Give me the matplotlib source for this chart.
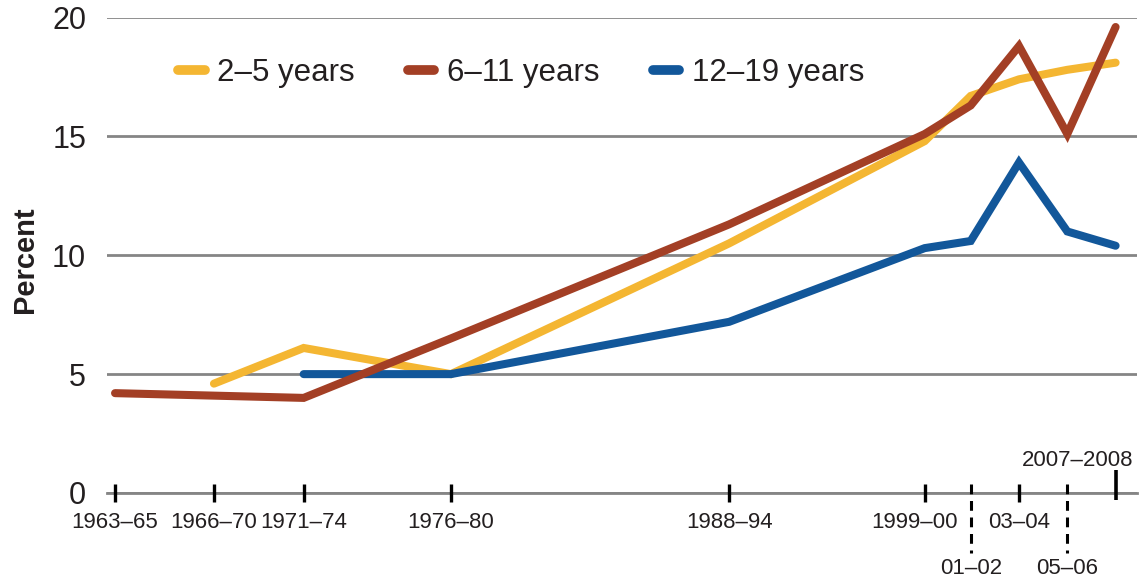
import matplotlib
matplotlib.use("Agg")
import matplotlib.pyplot as plt
from matplotlib.transforms import ScaledTranslation
import numpy as np

# ---------------- data ----------------
periods = ["1963–65", "1966–70", "1971–74", "1976–80", "1988–94",
           "1999–00", "01–02", "03–04", "05–06", "2007–2008"]
period_year = [1964.0, 1968.3, 1972.2, 1978.6, 1990.7,
               1999.2, 2001.2, 2003.3, 2005.4, 2007.5]
age_2_5 = [None, 4.6, 6.1, 5.0, 10.5, 14.8, 16.7, 17.4, 17.8, 18.1]
age_6_11 = [4.2, None, 4.0, 6.5, 11.3, 15.1, 16.3, 18.8, 15.1, 19.6]
age_12_19 = [None, None, 5.0, 5.0, 7.2, 10.3, 10.6, 13.9, 11.0, 10.4]
series_labels = ["2–5 years", "6–11 years", "12–19 years"]
y_ticks = [0, 5, 10, 15, 20]

colors = ["#F4B632", "#A33F25", "#12579A"]
text_color = "#231F20"
grid_color = "#858585"

plt.rcParams["font.family"] = ["Liberation Sans", "DejaVu Sans"]

W, H = 1141, 579
fig = plt.figure(figsize=(W / 100, H / 100), dpi=100)
ax = fig.add_axes([107 / W, (H - 493) / H, (1137 - 107) / W, (493 - 17.5) / H])

lines = []
for vals, lab, col in zip([age_2_5, age_12_19, age_6_11],
                          [series_labels[0], series_labels[2], series_labels[1]],
                          [colors[0], colors[2], colors[1]]):
    xs = [x for x, v in zip(period_year, vals) if v is not None]
    ys = [v for v in vals if v is not None]
    ln, = ax.plot(xs, ys, color=col, lw=5.8, solid_capstyle="round",
                  solid_joinstyle="miter", label=lab, zorder=3)
    lines.append(ln)

ax.set_xlim(1963.65, 2008.43)
ax.set_ylim(0, 20)

# y axis
ax.set_yticks(y_ticks)
ax.set_yticklabels([str(t) for t in y_ticks])
ax.tick_params(axis="y", length=0, pad=15, labelsize=22, labelcolor=text_color)
ax.yaxis.grid(True, color=grid_color, lw=2.0)
ax.set_axisbelow(True)
for s in ["top", "right", "left"]:
    ax.spines[s].set_visible(False)
ax.spines["bottom"].set_color(grid_color)
ax.spines["bottom"].set_linewidth(2.0)
ax.set_ylabel("Percent", fontsize=21, fontweight="bold", color=text_color)
ax.yaxis.set_label_coords(-0.066, 0.49)

# x axis: regular ticks (major), dashed ticks (minor), last one special
major_idx = [0, 1, 2, 3, 4, 5, 7]
minor_idx = [6, 8]
ax.set_xticks([period_year[i] for i in major_idx])
ax.set_xticklabels([periods[i] for i in major_idx])
ax.set_xticks([period_year[i] for i in minor_idx], minor=True)
ax.set_xticklabels([periods[i] for i in minor_idx], minor=True)
ax.tick_params(axis="x", which="major", length=0, pad=14, labelsize=16,
               labelcolor=text_color)
ax.tick_params(axis="x", which="minor", length=0, pad=47, labelsize=16,
               labelcolor=text_color)

# shift 1999-00 label left a bit
for lbl in ax.get_xticklabels():
    if lbl.get_text() == periods[5]:
        lbl.set_transform(lbl.get_transform() +
                          ScaledTranslation(-10 / 100, 0, fig.dpi_scale_trans))

trans = ax.get_xaxis_transform()
span = 493 - 17.5
for i in major_idx:
    ax.plot([period_year[i]] * 2, [9 / span, -9 / span], color="black", lw=2.4,
            transform=trans, clip_on=False, solid_capstyle="butt", zorder=4)
for i in minor_idx:
    ax.plot([period_year[i]] * 2, [9 / span, -60 / span], color="black", lw=2.2,
            transform=trans, clip_on=False, dashes=(3.2, 2.2), zorder=4)
ax.plot([period_year[9]] * 2, [23 / span, -7 / span], color="black", lw=2.6,
        transform=trans, clip_on=False, solid_capstyle="butt", zorder=4)
ax.annotate(periods[9], xy=(period_year[9], 0), xycoords=trans,
            xytext=(-38, 33), textcoords="offset pixels",
            ha="center", va="center", fontsize=16, color=text_color)

# legend
handles = [lines[0], lines[2], lines[1]]
leg = ax.legend(handles, series_labels, loc="center left",
                bbox_to_anchor=((178 - 107) / (1137 - 107), (493 - 73) / span),
                ncol=3, frameon=False, fontsize=22.5, handlelength=0.85,
                handletextpad=0.4, columnspacing=1.7, borderpad=0,
                borderaxespad=0)
for t in leg.get_texts():
    t.set_color(text_color)
for h in leg.legend_handles:
    h.set_solid_capstyle("round")
    h.set_linewidth(7)

fig.savefig("out.png", dpi=100)
